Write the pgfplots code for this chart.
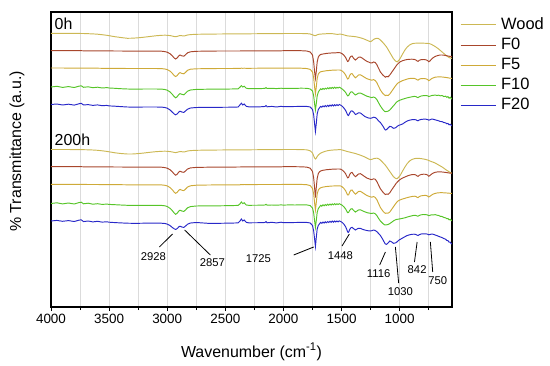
\documentclass[border=0pt]{standalone}
\usepackage{fontspec}
\setmainfont{Liberation Sans}
\usepackage{pgfplots}
\usepackage{pgfplotstable}
\pgfplotsset{compat=1.18}

\definecolor{cWood}{RGB}{204,184,84}
\definecolor{cF0}{RGB}{168,70,44}
\definecolor{cF5}{RGB}{206,170,56}
\definecolor{cF10}{RGB}{86,196,40}
\definecolor{cF20}{RGB}{40,40,200}

% y values are vertical positions (downward = absorption), stacked spectra
\pgfplotstableread{
wn W0 A0 B0 C0 D0 W2 A2 B2 C2 D2
4000 33.3 50.7 68.0 87.0 104.5 149.5 166.7 184.3 203.5 221.0
3950 33.3 50.7 68.0 86.3 104.0 149.5 166.7 184.3 202.8 220.4
3900 33.3 50.7 68.0 87.4 105.0 149.5 166.7 184.3 203.9 221.3
3850 33.3 50.7 68.1 86.6 104.2 149.5 166.7 184.3 203.0 220.6
3800 33.4 50.7 68.1 87.5 105.1 149.6 166.7 184.4 204.0 221.5
3760 33.4 50.7 68.1 86.2 103.8 149.6 166.7 184.4 202.6 220.2
3740 33.5 50.7 68.1 85.8 103.3 149.6 166.7 184.4 202.2 219.8
3720 33.5 50.8 68.1 87.3 105.0 149.7 166.8 184.4 203.8 221.6
3680 33.7 50.8 68.2 86.8 104.6 149.8 166.8 184.5 203.2 221.0
3640 33.9 50.8 68.2 87.7 105.4 150.0 166.8 184.5 204.2 221.9
3600 34.2 50.8 68.2 87.2 104.9 150.3 166.8 184.5 203.7 221.3
3560 34.7 50.9 68.3 88.0 105.7 150.8 166.9 184.6 204.4 222.1
3520 35.3 50.9 68.3 87.6 105.4 151.4 166.9 184.6 204.1 221.8
3500 35.7 50.9 68.3 88.0 105.9 151.8 166.9 184.6 204.4 222.2
3450 36.7 51.0 68.4 88.3 106.2 152.8 167.0 184.7 204.7 222.6
3400 37.5 51.0 68.4 88.7 106.6 153.5 167.0 184.7 205.0 222.9
3343 38.3 51.1 68.5 89.0 107.0 154.0 167.1 184.8 205.3 223.2
3300 38.2 51.1 68.5 89.1 107.1 154.0 167.1 184.8 205.4 223.3
3250 37.8 51.1 68.5 89.1 107.1 153.6 167.1 184.8 205.4 223.3
3200 37.2 51.1 68.5 89.0 107.0 153.0 167.1 184.8 205.3 223.2
3150 36.5 51.1 68.5 89.0 107.0 152.3 167.1 184.8 205.3 223.1
3100 35.8 51.1 68.5 89.0 107.0 151.7 167.1 184.8 205.3 223.1
3050 35.3 51.2 68.6 89.1 107.1 151.3 167.2 184.9 205.4 223.2
3020 35.2 51.6 69.0 89.5 107.5 151.2 167.6 185.3 205.8 223.5
3000 35.3 52.2 69.6 90.2 108.2 151.3 168.2 185.9 206.5 224.1
2975 35.6 53.8 71.2 92.0 110.0 151.6 169.8 187.6 208.4 225.6
2955 36.1 56.0 73.5 94.5 112.3 152.0 172.0 189.9 210.8 227.6
2940 36.5 58.0 75.6 96.6 114.0 152.4 174.0 192.2 213.0 228.8
2928 36.7 59.0 76.5 97.8 114.8 152.6 175.2 193.3 214.3 229.5
2915 36.4 58.0 75.6 96.8 114.0 152.3 174.3 192.4 213.3 228.6
2900 35.8 55.8 73.4 94.5 112.0 151.8 172.0 190.2 211.0 226.8
2890 35.6 55.0 72.6 93.6 111.2 151.6 171.2 189.4 210.2 226.2
2875 35.7 55.8 73.4 94.3 112.0 151.7 172.0 190.2 211.0 227.0
2857 36.0 56.2 73.8 94.8 112.4 152.0 172.3 190.6 211.4 227.4
2845 35.7 55.0 72.6 93.5 111.2 151.7 171.2 189.4 210.2 226.3
2825 35.0 52.8 70.3 91.2 109.2 151.0 169.0 187.0 207.8 224.2
2800 34.6 51.8 69.2 90.0 108.0 150.6 167.9 185.8 206.6 223.0
2750 34.3 51.3 68.8 89.4 107.5 150.3 167.4 185.2 206.0 222.5
2650 34.1 51.1 68.6 89.2 107.3 150.1 167.2 185.0 205.8 223.3
2550 34.0 51.0 68.5 89.2 107.3 150.0 167.1 184.9 205.8 223.3
2450 33.9 51.0 68.5 89.0 107.2 149.9 167.1 184.9 205.6 223.1
2390 33.9 51.0 68.4 88.8 107.0 149.9 167.0 184.8 205.4 222.9
2375 33.9 51.0 68.4 87.3 105.0 149.9 167.0 184.8 204.0 221.2
2362 33.8 50.9 68.2 85.6 103.2 149.8 166.9 184.5 202.0 219.0
2350 33.8 50.9 68.3 87.0 105.0 149.8 166.9 184.6 203.6 221.0
2338 33.8 50.9 68.2 86.2 104.0 149.8 166.9 184.5 202.8 220.0
2320 33.8 50.9 68.3 88.2 106.3 149.8 166.9 184.6 205.0 222.3
2300 33.8 50.9 68.3 88.7 106.8 149.8 166.9 184.6 205.3 222.8
2200 33.7 50.8 68.2 88.6 106.8 149.7 166.8 184.5 205.2 222.7
2160 33.7 50.8 68.2 88.4 106.5 149.7 166.8 184.5 205.0 222.5
2150 33.7 50.8 68.2 87.6 105.5 149.7 166.8 184.5 204.3 221.6
2140 33.7 50.8 68.2 88.5 106.8 149.7 166.8 184.5 205.2 222.8
2100 33.6 50.8 68.2 88.3 106.4 149.6 166.8 184.5 205.0 222.3
2060 33.6 50.8 68.2 88.6 107.0 149.6 166.8 184.5 205.2 222.9
2020 33.6 50.8 68.2 88.2 106.3 149.6 166.8 184.5 204.9 222.2
2000 33.5 50.7 68.2 88.5 106.7 149.5 166.7 184.4 205.1 222.7
1950 33.5 50.7 68.2 88.3 106.6 149.5 166.7 184.4 204.9 222.6
1900 33.5 50.7 68.2 88.4 106.5 149.5 166.7 184.4 205.0 222.5
1850 33.5 50.7 68.2 88.2 106.4 149.6 166.8 184.4 204.8 222.4
1800 33.6 51.0 68.5 88.3 106.4 149.8 167.1 184.7 204.9 222.4
1770 34.0 52.0 69.4 89.0 107.0 150.8 168.2 185.6 205.6 223.0
1750 34.8 55.0 72.0 91.0 109.5 153.0 171.5 188.5 208.0 225.5
1740 35.3 62.0 78.0 96.0 115.0 156.0 178.0 194.0 213.0 231.0
1732 35.6 72.0 87.0 104.0 124.0 158.0 188.0 203.0 221.0 239.0
1725 35.6 78.5 94.0 110.0 131.5 159.0 197.5 210.0 227.5 246.5
1718 35.3 72.0 87.5 104.0 124.0 158.2 188.0 203.0 221.0 238.0
1710 34.8 62.0 78.5 96.0 114.0 156.5 178.5 194.0 212.5 229.0
1700 34.4 57.0 74.0 92.0 109.5 155.0 173.5 190.0 208.5 225.5
1690 34.2 55.3 72.5 90.3 107.8 154.0 171.8 188.5 207.0 223.8
1680 34.1 54.5 71.8 88.8 106.4 153.2 171.0 187.8 205.3 222.4
1670 34.0 54.2 71.5 89.6 107.2 152.6 170.6 187.4 206.2 223.3
1660 33.9 54.0 71.3 88.4 105.9 152.1 170.3 187.1 204.8 222.0
1650 33.8 53.8 71.1 89.3 106.8 151.7 170.1 186.9 205.8 223.0
1640 33.8 53.6 70.9 88.2 105.6 151.3 169.9 186.7 204.6 221.8
1630 33.7 53.4 70.7 89.0 106.6 151.0 169.7 186.5 205.5 222.8
1620 33.7 53.3 70.6 87.8 105.3 150.7 169.6 186.4 204.2 221.6
1610 33.6 53.2 70.5 88.8 106.4 150.5 169.5 186.3 205.2 222.5
1600 33.6 53.1 70.4 87.6 105.0 150.3 169.4 186.2 204.0 221.3
1590 33.6 53.0 70.3 88.5 106.1 150.2 169.3 186.1 205.0 222.3
1580 33.7 52.9 70.2 87.4 104.8 150.1 169.2 186.0 203.9 221.1
1570 33.8 52.9 70.2 88.4 106.0 150.0 169.2 186.0 204.8 222.2
1560 34.0 52.8 70.1 87.2 104.7 149.9 169.1 185.9 203.7 221.0
1550 34.2 52.8 70.1 88.3 105.8 149.8 169.1 185.9 204.7 222.0
1540 34.3 52.7 70.0 87.3 104.6 149.8 169.0 185.8 203.8 221.0
1530 34.3 52.7 70.0 88.0 105.6 149.7 169.0 185.8 204.5 221.9
1520 34.2 52.7 70.0 87.2 104.5 149.7 169.0 185.8 203.7 220.9
1510 34.1 52.8 70.1 87.8 105.0 149.6 169.1 185.9 204.3 221.4
1495 34.4 53.7 71.0 89.0 106.2 150.0 170.0 186.8 205.2 222.4
1480 34.9 55.2 72.6 90.5 108.0 150.5 171.5 188.4 206.8 224.2
1465 35.4 57.5 75.0 92.5 110.5 151.0 173.8 190.8 209.0 226.8
1455 35.7 60.0 77.5 94.6 113.0 151.4 176.3 193.3 211.2 229.5
1448 35.9 61.5 79.0 95.8 115.0 151.6 177.8 195.0 212.7 232.0
1440 36.0 61.0 78.5 95.6 115.5 151.8 177.5 195.0 212.5 232.3
1430 36.1 58.0 75.5 93.3 113.0 152.1 174.5 192.0 210.3 229.5
1420 36.2 56.3 73.8 92.0 111.2 152.4 172.8 190.2 209.0 227.8
1410 36.3 56.0 73.6 91.8 110.8 152.7 172.4 190.0 208.7 227.3
1395 36.5 58.5 76.0 93.6 112.3 153.1 175.0 192.4 210.5 228.8
1381 36.7 60.0 77.8 95.0 114.5 153.5 176.7 194.2 212.0 230.0
1370 36.9 59.0 76.8 94.3 114.0 153.9 175.7 193.2 211.2 229.2
1355 37.3 57.3 75.0 93.2 112.8 154.5 174.0 191.5 210.0 228.3
1338 37.8 57.0 74.8 93.0 113.0 155.2 173.7 191.3 209.8 228.4
1320 38.4 58.3 76.0 94.0 114.6 156.0 175.0 192.6 210.8 229.3
1300 39.3 60.0 77.5 95.2 116.5 157.0 176.7 194.2 211.8 230.0
1280 40.3 61.5 78.8 96.3 117.5 158.2 178.2 195.6 212.7 230.6
1267 41.0 62.0 79.3 96.7 118.0 159.0 178.7 196.2 213.0 230.8
1253 41.7 62.8 79.8 97.2 118.3 159.6 179.3 196.8 213.3 231.0
1240 41.0 63.0 80.2 97.6 118.0 159.4 179.6 197.2 213.5 230.7
1225 39.5 62.0 79.6 97.0 117.2 158.7 178.8 196.5 213.0 230.0
1210 38.6 62.5 80.5 97.8 117.5 158.3 179.3 197.5 213.8 230.5
1195 38.3 65.0 83.0 99.8 119.0 158.2 181.8 200.0 215.8 231.8
1183 38.5 68.0 86.0 102.5 120.8 158.6 184.8 203.2 218.2 233.3
1166 40.0 72.0 90.0 106.0 122.5 160.0 188.8 207.5 221.0 235.5
1145 42.5 75.0 93.5 109.5 126.0 162.5 192.0 211.0 223.5 239.5
1130 44.5 76.5 95.0 111.3 129.0 164.3 193.8 212.8 224.8 242.8
1123 45.5 77.2 95.6 111.7 130.0 165.3 194.5 213.3 225.0 244.0
1113 47.0 76.5 95.2 111.5 129.6 166.8 194.0 213.0 224.8 244.3
1100 49.5 76.8 95.5 111.2 128.0 169.0 194.3 213.2 224.5 243.0
1085 52.5 75.0 94.0 110.0 126.3 171.5 192.8 212.0 223.6 241.0
1070 55.5 72.5 91.5 108.0 126.8 174.0 190.0 209.5 222.3 241.8
1055 58.5 70.0 89.0 106.0 128.3 176.5 187.5 207.0 221.0 243.3
1040 60.5 67.5 86.5 104.0 128.0 178.0 185.0 204.5 220.0 243.0
1030 61.5 65.8 85.0 102.5 127.3 178.6 183.3 203.0 219.5 242.6
1020 61.8 64.3 83.5 101.5 126.2 178.5 182.0 201.5 219.3 241.5
1005 60.0 62.7 82.3 100.5 125.2 176.8 180.3 200.3 219.0 240.0
994 58.0 61.7 81.7 100.0 124.8 175.0 179.3 199.8 218.8 239.3
975 54.0 60.7 80.6 99.2 124.0 171.0 178.0 199.0 218.3 238.0
955 50.0 60.0 79.8 98.5 122.3 167.0 177.0 198.3 217.8 236.7
935 47.0 59.5 79.0 97.8 121.0 163.5 176.0 197.6 217.0 235.5
915 45.0 59.3 78.5 97.3 120.2 161.0 175.2 197.0 216.4 234.8
895 43.8 59.2 78.3 96.8 119.7 159.5 174.6 196.5 215.8 234.3
875 43.3 59.4 78.4 96.4 119.6 158.7 174.5 196.2 215.3 234.2
860 43.2 60.0 79.0 96.6 119.8 158.4 175.0 196.5 215.5 234.5
850 43.1 61.0 79.8 97.3 120.5 158.3 176.0 197.3 216.0 235.2
842 43.1 61.3 80.2 97.6 120.8 158.3 176.3 197.6 216.2 235.5
832 43.1 60.3 79.2 96.8 120.0 158.4 175.3 196.6 215.5 234.7
815 43.2 59.6 78.6 96.0 119.4 158.6 174.5 195.8 214.8 234.0
795 43.2 59.5 78.5 95.6 119.2 159.0 174.2 195.5 214.5 233.8
775 43.3 59.8 78.8 95.5 119.2 159.5 174.3 195.4 214.6 233.8
760 43.4 60.5 79.5 95.8 119.5 160.0 175.0 196.0 215.0 234.2
750 43.5 61.8 80.7 96.5 120.2 160.5 176.3 197.0 215.7 234.8
740 43.8 61.0 80.0 96.2 119.8 161.0 175.5 196.3 215.3 234.5
725 44.5 59.0 78.6 95.5 119.0 161.7 174.0 195.0 214.8 234.0
710 45.5 57.5 77.8 95.3 119.3 162.3 173.0 194.0 215.0 234.3
695 46.5 56.5 77.2 95.0 119.8 163.0 172.3 193.4 214.6 235.0
680 47.7 55.8 77.0 95.5 120.3 164.0 172.0 193.0 215.2 235.6
665 49.0 55.3 76.9 95.2 120.8 165.0 171.8 192.8 215.5 236.3
650 50.5 55.0 76.9 95.8 121.5 166.0 171.8 192.7 216.3 237.0
635 52.0 55.0 77.0 95.5 121.6 167.0 172.0 192.7 216.5 237.6
620 53.5 55.2 77.2 96.6 122.6 168.2 172.2 192.8 217.5 238.6
605 55.0 55.5 77.4 96.2 122.8 169.5 172.4 192.9 217.8 239.2
595 56.0 55.7 77.6 97.3 123.8 170.3 172.6 193.0 218.7 240.4
585 56.8 56.0 77.8 96.6 123.4 171.0 172.8 193.1 218.5 240.6
575 57.5 56.2 78.0 98.2 124.8 171.8 173.0 193.2 219.8 242.2
565 58.0 56.4 78.2 97.2 124.2 172.5 173.1 193.3 219.3 242.2
555 58.3 56.6 78.3 98.8 125.6 173.0 173.2 193.4 220.6 243.8
550 58.3 56.7 78.3 98.0 125.0 173.3 173.3 193.4 220.0 243.3
}\spectra

\begin{document}
\begin{tikzpicture}
\path (-51bp,-59bp) rectangle (499bp,307bp);
\begin{axis}[
  at={(0,0)}, anchor=south west,
  scale only axis, width=401bp, height=295bp,
  x dir=reverse, xmin=550, xmax=4000,
  y dir=reverse, ymin=12, ymax=307,
  xtick={1000,1500,2000,2500,3000,3500,4000},
  minor xtick={750,1250,1750,2250,2750,3250,3750},
  ytick=\empty,
  xtick pos=bottom, tick align=outside,
  major tick length=4bp, minor tick length=3bp,
  tick style={black, line width=0.8bp},
  xmajorgrids, xminorgrids,
  major grid style={black!14, line width=0.6bp},
  minor grid style={black!14, line width=0.6bp},
  axis line style={line width=1.1bp},
  /pgf/number format/assume math mode=true,
  /pgf/number format/1000 sep={},
  xticklabel style={font=\fontsize{13.5}{14}\selectfont},
  xlabel={Wavenumber (cm\textsuperscript{-1})},
  ylabel={\% Transmittance (a.u.)},
  xlabel style={font=\fontsize{16}{17}\selectfont, at={(axis description cs:0.5,-0.152)}, anchor=center},
  ylabel style={font=\fontsize{16}{17}\selectfont, at={(axis description cs:-0.085,0.527)}, anchor=center},
  legend style={at={(axis description cs:1,1)}, anchor=north west, xshift=8bp, yshift=-5bp,
    draw=none, fill=none, inner sep=0bp, font=\fontsize{16.5}{17}\selectfont, row sep=4.6bp,
    nodes={inner sep=0bp, text height=12bp, text depth=3.5bp}},
  legend cell align=left,
  legend image code/.code={\draw[#1] (0bp,0bp) -- (35bp,0bp); \path (40bp,0bp);},
  every axis plot/.append style={line width=0.95bp},
  clip=true,
]
\addplot[cWood] table[x=wn,y=W0]{\spectra};
\addlegendentry{Wood}
\addplot[cF0] table[x=wn,y=A0]{\spectra};
\addlegendentry{F0}
\addplot[cF5] table[x=wn,y=B0]{\spectra};
\addlegendentry{F5}
\addplot[cF10] table[x=wn,y=C0]{\spectra};
\addlegendentry{F10}
\addplot[cF20] table[x=wn,y=D0]{\spectra};
\addlegendentry{F20}
\addplot[cWood, forget plot] table[x=wn,y=W2]{\spectra};
\addplot[cF0, forget plot] table[x=wn,y=A2]{\spectra};
\addplot[cF5, forget plot] table[x=wn,y=B2]{\spectra};
\addplot[cF10, forget plot] table[x=wn,y=C2]{\spectra};
\addplot[cF20, forget plot] table[x=wn,y=D2]{\spectra};

\node[anchor=west, font=\fontsize{16}{17}\selectfont, inner sep=0pt] at (axis cs:3970,23.5) {0h};
\node[anchor=west, font=\fontsize{16}{17}\selectfont, inner sep=0pt] at (axis cs:3970,140) {200h};

\begin{scope}[line width=0.8bp]
\draw (axis cs:3068,247) -- (axis cs:2954,234);
\draw (axis cs:2850,230) -- (axis cs:2629,255);
\draw (axis cs:1912,255) -- (axis cs:1740,247);
\draw (axis cs:1496,246) -- (axis cs:1433,234);
\draw (axis cs:1172,265) -- (axis cs:1123,252);
\draw (axis cs:1009,283) -- (axis cs:1037,247);
\draw (axis cs:873,262) -- (axis cs:850,242);
\draw (axis cs:716,272) -- (axis cs:736,242);
\end{scope}
\begin{scope}[every node/.style={font=\fontsize{11.3}{12}\selectfont, inner sep=0pt}]
\node at (axis cs:3120,257) {2928};
\node at (axis cs:2612,263) {2857};
\node at (axis cs:2216,259) {1725};
\node at (axis cs:1510,256) {1448};
\node at (axis cs:1181,274) {1116};
\node at (axis cs:994,292) {1030};
\node at (axis cs:850,270) {842};
\node at (axis cs:673,281) {750};
\end{scope}
\end{axis}
\end{tikzpicture}
\end{document}
